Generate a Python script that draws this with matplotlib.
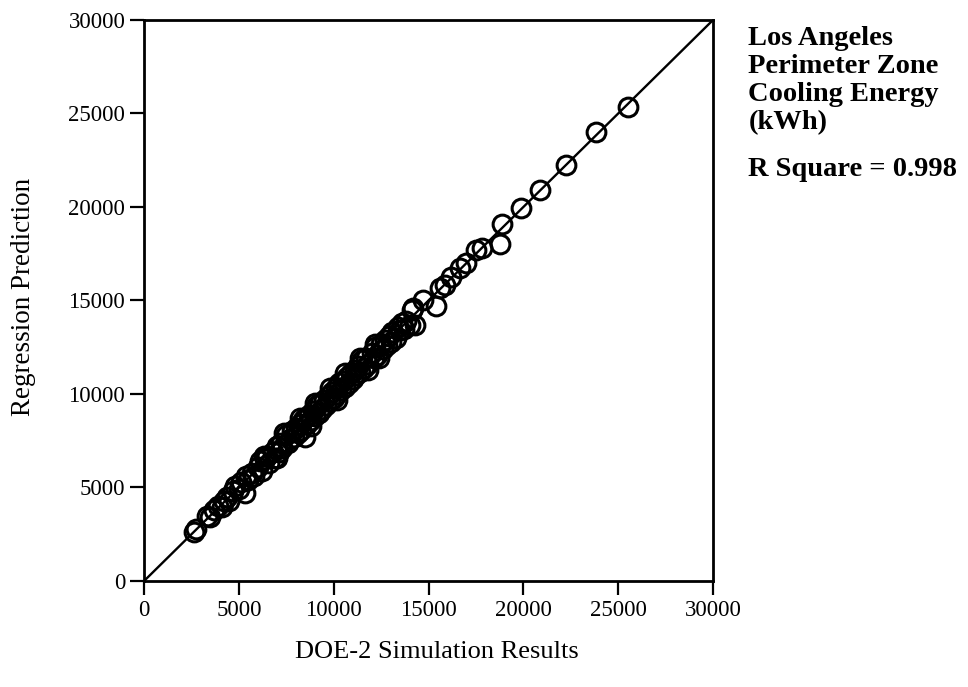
import matplotlib
matplotlib.use("Agg")
import matplotlib.pyplot as plt

# DOE-2 simulation results vs regression prediction (kWh)
doe2 = [2650, 2750, 3300, 3500, 3700, 3900, 4100, 4200, 4400, 4500,
        4700, 4800, 5000, 5100, 5300, 5400, 5500, 5700, 5800, 6000,
        6100, 6200, 6400, 6500, 6600, 6800, 6900, 7000, 7100, 7200,
        7300, 7500, 7600, 7700, 7800, 7900, 8000, 8100, 8200, 8300,
        8400, 8500, 8500, 8600, 8700, 8800, 8900, 9000, 9100, 9200,
        9300, 9400, 9500, 9600, 9700, 9800, 9900, 10000, 10100, 10200,
        10300, 10400, 10500, 10600, 10700, 10800, 10900, 11000, 11100, 11200,
        11300, 11400, 11500, 11600, 11700, 11800, 12000, 12100, 12200, 12300,
        12500, 12600, 12700, 12800, 12900, 13000, 13100, 13300, 13400, 13500,
        13600, 13700, 13800, 14000, 14200, 14300,
        6300, 7400, 8200, 9000, 9800, 10600, 11400, 12200,
        7000, 8800, 10200, 11800, 12400,
        14150, 14700, 15400, 15580, 15850, 16200, 16640, 16990, 17520, 17800,
        18790, 18890, 19860, 20900, 22240, 23820, 25510]
prediction = [2600, 2800, 3500, 3400, 3800, 4000, 3950, 4300, 4500, 4300,
              4800, 5100, 4900, 5300, 4700, 5600, 5400, 5800, 5600, 6100,
              6400, 5900, 6500, 6700, 6300, 6900, 6600, 7200, 6900, 7400,
              7100, 7800, 7400, 7600, 8000, 7700, 8200, 7900, 8400, 8100,
              8600, 7700, 8700, 8400, 8900, 8600, 9100, 8800, 9400, 9000,
              9500, 9200, 9700, 9400, 9900, 9600, 10100, 9800, 10300, 10000,
              10600, 10200, 10700, 10400, 10900, 10600, 11100, 10800, 11300, 11000,
              11500, 11200, 11800, 11400, 11900, 11600, 12200, 11900, 12500, 12100,
              12700, 12400, 12900, 12600, 13100, 12800, 13300, 13000, 13600, 13400,
              13800, 13500, 13900, 13700, 14600, 13700,
              6700, 7900, 8700, 9500, 10300, 11100, 11900, 12700,
              6600, 8300, 9700, 11300, 11900,
              14500, 15030, 14700, 15670, 15830, 16270, 16720, 17020, 17700, 17790,
              18020, 19080, 19950, 20900, 22250, 24010, 25350]

ticks = [0, 5000, 10000, 15000, 20000, 25000, 30000]

plt.rcParams['font.family'] = ['Liberation Serif', 'DejaVu Serif']

fig = plt.figure(figsize=(9.68, 6.87), dpi=100)
ax = fig.add_axes([0.1488, 0.1543, 0.5878, 0.8166])

# 1:1 line
ax.plot([0, 30000], [0, 30000], color='black', lw=1.7, zorder=1)
ax.plot(doe2, prediction, linestyle='none', marker='o', ms=13.5,
        mfc='none', mec='black', mew=2.2, zorder=2)

ax.set_xlim(0, 30000)
ax.set_ylim(0, 30000)
ax.set_xticks(ticks)
ax.set_yticks(ticks)
ax.set_xticklabels([str(t) for t in ticks], fontsize=16.5)
ax.set_yticklabels([str(t) for t in ticks], fontsize=16.5)
ax.tick_params(direction='out', length=10, width=1.6, pad=3.5, color='black')
for s in ax.spines.values():
    s.set_linewidth(2.0)

fig.text(0.024, 0.568, 'Regression Prediction', fontsize=19.5, rotation=90,
         ha='center', va='center')
fig.text(0.451, 0.051, 'DOE-2 Simulation Results', fontsize=19, ha='center', va='center')

fig.text(0.773, 0.962, 'Los Angeles\nPerimeter Zone\nCooling Energy\n(kWh)',
         fontsize=20.5, fontweight='bold', ha='left', va='top', linespacing=1.15)
fig.text(0.773, 0.753, 'R Square = 0.998', fontsize=20.5, fontweight='bold',
         ha='left', va='center')

fig.savefig('out.png', dpi=100)
